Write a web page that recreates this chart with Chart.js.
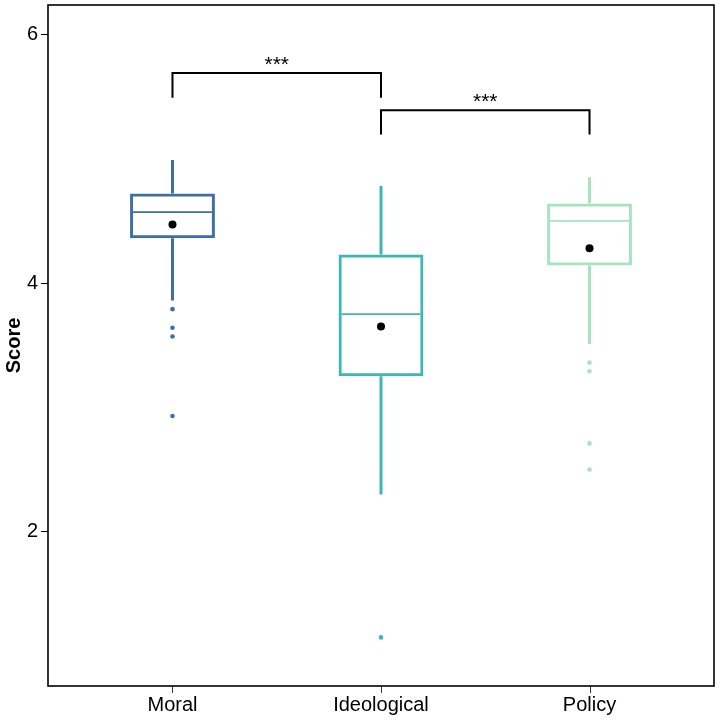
<!DOCTYPE html>
<html>
<head>
<meta charset="utf-8">
<script src="https://cdn.jsdelivr.net/npm/chart.js@4.4.1/dist/chart.umd.min.js"></script>
<style>
  html, body { margin: 0; padding: 0; background: #fff; }
  #wrap { width: 720px; height: 720px; position: relative; }
</style>
</head>
<body>
<div id="wrap"><canvas id="boxChart"></canvas></div>
<script>
const categories = ['Moral', 'Ideological', 'Policy'];
const q1 = [4.36, 3.25, 4.14];
const q3 = [4.72, 4.23, 4.64];
const medians = [4.57, 3.75, 4.50];
const means = [4.47, 3.65, 4.28];
const whiskerLow = [3.86, 2.30, 3.51];
const whiskerHigh = [4.99, 4.78, 4.85];
const outliers = [
    [3.79, 3.64, 3.57, 2.93],
    [1.15],
    [3.36, 3.29, 2.71, 2.50]
];
const yTicks = [2, 4, 6];

// significance brackets
const bracketFrom = [0, 1];
const bracketTo = [1, 2];
const bracketTop = [5.69, 5.39];
const bracketBottom = [5.49, 5.195];
const bracketLabels = ['***', '***'];

const colors = ['#3d6fa6', '#3fb6b0', '#a7e3be'];

const boxData = categories.map((c, i) => ({ x: i, y: [q1[i], q3[i]] }));
const meanData = categories.map((c, i) => ({ x: i, y: means[i] }));
const outlierData = [];
const outlierColors = [];
outliers.forEach((list, i) => {
    list.forEach(v => {
        outlierData.push({ x: i, y: v });
        outlierColors.push(colors[i]);
    });
});

// whiskers, medians, brackets, x ticks and panel border
const boxExtras = {
    id: 'boxExtras',
    afterDatasetsDraw(chart) {
        const ctx = chart.ctx;
        const xs = chart.scales.x;
        const ys = chart.scales.y;
        const bars = chart.getDatasetMeta(0).data;
        ctx.save();
        bars.forEach((bar, i) => {
            const x = bar.x;
            const half = bar.width / 2;
            ctx.strokeStyle = colors[i];
            ctx.lineWidth = 3;
            ctx.beginPath();
            ctx.moveTo(x, ys.getPixelForValue(q3[i]));
            ctx.lineTo(x, ys.getPixelForValue(whiskerHigh[i]));
            ctx.moveTo(x, ys.getPixelForValue(q1[i]));
            ctx.lineTo(x, ys.getPixelForValue(whiskerLow[i]));
            ctx.stroke();
            ctx.lineWidth = 1.6;
            ctx.beginPath();
            const my = ys.getPixelForValue(medians[i]);
            ctx.moveTo(x - half + 3, my);
            ctx.lineTo(x + half - 3, my);
            ctx.stroke();
        });

        ctx.strokeStyle = '#000';
        ctx.fillStyle = '#000';
        ctx.lineWidth = 2;
        ctx.font = '21px "Liberation Sans", Arial, sans-serif';
        ctx.textAlign = 'center';
        ctx.textBaseline = 'alphabetic';
        bracketFrom.forEach((f, k) => {
            const x1 = xs.getPixelForValue(f);
            const x2 = xs.getPixelForValue(bracketTo[k]);
            const yt = ys.getPixelForValue(bracketTop[k]);
            const yb = ys.getPixelForValue(bracketBottom[k]);
            ctx.beginPath();
            ctx.moveTo(x1, yb);
            ctx.lineTo(x1, yt);
            ctx.lineTo(x2, yt);
            ctx.lineTo(x2, yb);
            ctx.stroke();
            ctx.fillText(bracketLabels[k], (x1 + x2) / 2, yt - 2);
        });

        const a = chart.chartArea;
        ctx.lineWidth = 1;
        ctx.strokeStyle = '#333';
        ctx.beginPath();
        categories.forEach((c, i) => {
            const tx = Math.round(xs.getPixelForValue(i)) + 0.5;
            ctx.moveTo(tx, a.bottom);
            ctx.lineTo(tx, a.bottom + 7);
        });
        ctx.stroke();

        ctx.strokeStyle = '#000';
        ctx.lineWidth = 1.6;
        ctx.strokeRect(a.left, a.top, a.right - a.left, a.bottom - a.top);
        ctx.restore();
    }
};

new Chart(document.getElementById('boxChart'), {
    type: 'bar',
    data: {
        datasets: [
            {
                label: 'box',
                data: boxData,
                backgroundColor: 'rgba(255,255,255,0)',
                borderColor: colors,
                borderWidth: 3,
                borderSkipped: false,
                barPercentage: 0.407,
                categoryPercentage: 1
            },
            {
                type: 'scatter',
                label: 'outliers',
                data: outlierData,
                pointRadius: 2.3,
                pointBackgroundColor: outlierColors,
                pointBorderWidth: 0
            },
            {
                type: 'scatter',
                label: 'mean',
                data: meanData,
                pointRadius: 4,
                pointBackgroundColor: '#000',
                pointBorderWidth: 0
            }
        ]
    },
    options: {
        responsive: true,
        maintainAspectRatio: false,
        animation: false,
        layout: { padding: { top: 5, right: 6, left: 0, bottom: 0 } },
        plugins: {
            legend: { display: false },
            tooltip: { enabled: false }
        },
        scales: {
            x: {
                type: 'linear',
                min: -0.597,
                max: 2.597,
                offset: false,
                afterBuildTicks: (scale) => {
                    scale.ticks = categories.map((c, i) => ({ value: i }));
                },
                afterFit: (scale) => {
                    scale.height = 34;
                    scale.paddingLeft = 0;
                    scale.paddingRight = 0;
                },
                grid: {
                    display: true,
                    offset: false,
                    drawOnChartArea: false,
                    drawTicks: true,
                    tickLength: 7,
                    color: 'rgba(0,0,0,0)'
                },
                border: { display: false },
                ticks: {
                    autoSkip: false,
                    maxRotation: 0,
                    padding: 0,
                    color: '#000',
                    font: { family: '"Liberation Sans", Arial, sans-serif', size: 20 },
                    callback: (v) => categories[v]
                }
            },
            y: {
                min: 0.759,
                max: 6.236,
                afterBuildTicks: (scale) => {
                    scale.ticks = yTicks.map(v => ({ value: v }));
                },
                afterFit: (scale) => {
                    scale.width = 48;
                    scale.paddingTop = 0;
                    scale.paddingBottom = 0;
                },
                grid: {
                    drawOnChartArea: false,
                    drawTicks: true,
                    tickLength: 7,
                    color: '#000',
                    lineWidth: 1
                },
                border: { display: false },
                ticks: {
                    padding: 3,
                    color: '#000',
                    font: { family: '"Liberation Sans", Arial, sans-serif', size: 20 }
                },
                title: {
                    display: true,
                    text: 'Score',
                    color: '#000',
                    padding: { top: 2, bottom: 0 },
                    font: { family: '"Liberation Sans", Arial, sans-serif', size: 20, weight: 'bold' }
                }
            }
        }
    },
    plugins: [boxExtras]
});
</script>
</body>
</html>
